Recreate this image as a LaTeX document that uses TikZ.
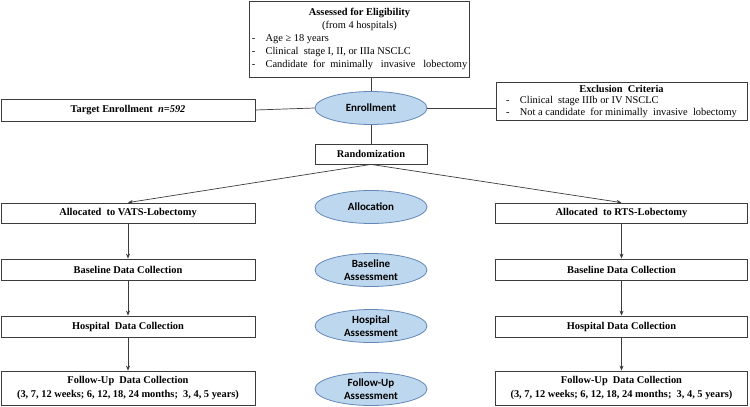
\documentclass[tikz,border=0pt]{standalone}
\usepackage{fontspec}
\setmainfont{Liberation Serif}
\newfontfamily\calib{Carlito}
\usetikzlibrary{shapes.geometric,arrows.meta}
\definecolor{ellfill}{RGB}{189,215,238}
\definecolor{elldraw}{RGB}{100,135,185}
\definecolor{lin}{RGB}{60,60,60}
\begin{document}
\begin{tikzpicture}[x=1pt,y=1pt,
 box/.style={draw=lin, line width=0.8pt, inner sep=2pt, align=center, font=\fontsize{10.4}{12}\selectfont\bfseries},
 phase/.style={ellipse, draw=elldraw, fill=ellfill, line width=0.8pt, minimum width=112pt, minimum height=33pt, inner sep=0pt, align=center, font=\calib\fontsize{11}{13}\selectfont\bfseries},
 conn/.style={draw=lin, line width=0.7pt},
 arr/.style={conn, -{Stealth[length=5pt,width=4pt]}}]
\useasboundingbox (0,0) rectangle (750,-407);

% top eligibility box
\node[box, minimum width=220pt, minimum height=76pt, font=\fontsize{10.4}{12.8}\selectfont] (elig) at (359.5,-39)
 {\begin{tabular}{@{}l@{\hspace{1em}}l@{}}
  \multicolumn{2}{c}{\textbf{Assessed for Eligibility}}\\
  \multicolumn{2}{c}{(from 4 hospitals)}\\
  - & Age ≥ 18 years\\
  - & Clinical\ \ stage I, II, or IIIa NSCLC\\
  - & Candidate\ \ for\ \ minimally\ \ \ invasive\ \ \ lobectomy
 \end{tabular}};

\node[box, minimum width=254pt, minimum height=22pt] (target) at (128,-110) {Target Enrollment\ \ \textit{n=592}};

\node[box, minimum width=251pt, minimum height=36pt, font=\fontsize{10.4}{11.5}\selectfont] (excl) at (621.5,-101.5)
 {\begin{tabular}{@{}l@{\hspace{1em}}l@{}}
  \multicolumn{2}{c}{\textbf{Exclusion\ \ Criteria}}\\
  - & Clinical\ \ stage IIIb or IV NSCLC\\
  - & Not a candidate\ \ for minimally\ \ invasive\ \ lobectomy
 \end{tabular}};

\node[box, minimum width=112pt, minimum height=20pt] (rand) at (371,-154) {Randomization};

% phase ellipses
\node[phase] (enroll) at (371,-108) {Enrollment};
\node[phase] (alloc) at (371,-207) {Allocation};
\node[phase] (basep) at (371,-270) {Baseline\\Assessment};
\node[phase] (hospp) at (371,-326) {Hospital\\Assessment};
\node[phase] (follp) at (371,-389) {Follow-Up\\Assessment};

% left column
\node[box, minimum width=254pt, minimum height=20pt] (vats) at (128,-213) {Allocated\ \ to VATS-Lobectomy};
\node[box, minimum width=254pt, minimum height=21pt] (lbase) at (128,-269.5) {Baseline Data Collection};
\node[box, minimum width=254pt, minimum height=21pt] (lhosp) at (128,-326.5) {Hospital\ \ Data Collection};
\node[box, minimum width=254pt, minimum height=34pt, font=\fontsize{10.4}{13.5}\selectfont\bfseries] (lfoll) at (128,-388) {Follow-Up\ \ Data Collection\\(3, 7, 12 weeks; 6, 12, 18, 24 months;\ \ 3, 4, 5 years)};

% right column
\node[box, minimum width=252pt, minimum height=20pt] (rts) at (621.5,-213) {Allocated\ \ to RTS-Lobectomy};
\node[box, minimum width=252pt, minimum height=21pt] (rbase) at (621.5,-269.5) {Baseline Data Collection};
\node[box, minimum width=252pt, minimum height=21pt] (rhosp) at (621.5,-326.5) {Hospital Data Collection};
\node[box, minimum width=252pt, minimum height=34pt, font=\fontsize{10.4}{13.5}\selectfont\bfseries] (rfoll) at (621.5,-388) {Follow-Up\ \ Data Collection\\(3, 7, 12 weeks; 6, 12, 18, 24 months;\ \ 3, 4, 5 years)};

% connectors
\draw[conn] (elig.south -| enroll.north) -- (enroll.north);
\draw[conn] (target.east) -- (enroll.west);
\draw[conn] (enroll.east) -- (enroll.east -| excl.west);
\draw[conn] (enroll.south) -- (rand.north);
\draw[arr] (rand.south) -- (vats.north);
\draw[arr] (rand.south) -- (rts.north);
\draw[arr] (vats.south) -- (lbase.north);
\draw[arr] (lbase.south) -- (lhosp.north);
\draw[arr] (lhosp.south) -- (lfoll.north);
\draw[arr] (rts.south) -- (rbase.north);
\draw[arr] (rbase.south) -- (rhosp.north);
\draw[arr] (rhosp.south) -- (rfoll.north);
\end{tikzpicture}
\end{document}
